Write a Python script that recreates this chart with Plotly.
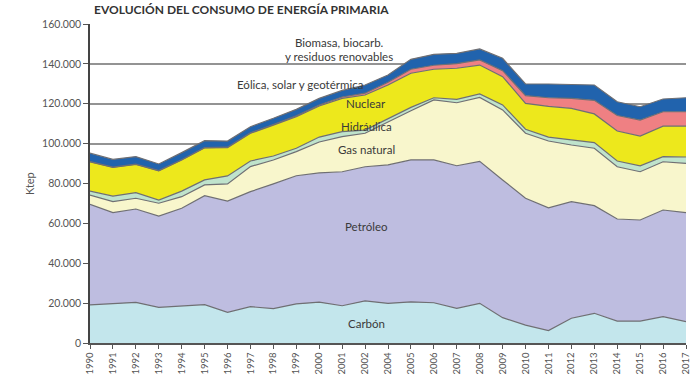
import plotly.graph_objects as go

years = ["1990", "1991", "1992", "1993", "1994", "1995", "1996", "1997", "1998", "1999",
         "2000", "2001", "2002", "2004", "2005", "2006", "2007", "2008", "2009", "2010",
         "2011", "2012", "2013", "2014", "2015", "2016", "2017"]

carbon = [19.1, 19.9, 20.4, 17.9, 18.6, 19.2, 15.4, 18.2, 17.2, 19.6, 20.5, 18.7, 21.1, 19.9,
          20.6, 20.2, 17.4, 19.9, 12.7, 9.0, 6.2, 12.4, 14.9, 11.0, 11.0, 13.2, 10.7]
petroleo = [50.5, 45.5, 46.8, 45.8, 49.0, 54.7, 55.8, 57.7, 62.6, 64.3, 64.8, 67.2, 67.3, 69.4,
            71.2, 71.6, 71.5, 71.2, 69.1, 63.6, 61.6, 58.5, 54.0, 51.2, 50.7, 53.5, 54.7]
gas = [4.6, 5.5, 5.4, 6.4, 5.8, 5.4, 8.6, 12.6, 12.0, 12.1, 15.5, 17.6, 16.8, 21.7,
       24.7, 30.1, 31.6, 32.1, 35.1, 32.6, 33.5, 28.4, 28.8, 26.2, 24.2, 24.2, 24.7]
hidraulica = [2.0, 2.8, 2.8, 1.6, 2.8, 2.5, 4.0, 2.8, 2.0, 1.7, 2.5, 2.5, 1.6, 1.7,
              1.7, 1.1, 1.7, 1.7, 2.5, 2.0, 2.0, 2.6, 2.8, 2.9, 3.0, 2.6, 3.2]
nuclear = [14.7, 14.4, 14.2, 14.7, 15.6, 16.1, 14.2, 13.9, 15.5, 15.8, 15.6, 16.7, 17.6, 16.7,
           17.1, 14.3, 15.6, 14.5, 14.2, 13.0, 15.4, 15.8, 14.4, 15.0, 14.9, 15.3, 15.5]
eolica = [0.1, 0.1, 0.1, 0.1, 0.1, 0.1, 0.2, 0.2, 0.3, 0.4, 0.5, 0.7, 0.9, 1.4,
          2.0, 2.0, 2.3, 2.6, 3.0, 3.9, 4.3, 5.0, 6.8, 7.8, 8.0, 7.2, 7.2]
biomasa = [4.2, 3.9, 3.8, 3.3, 3.6, 3.5, 3.1, 3.1, 3.1, 3.3, 3.3, 3.3, 4.1, 3.6,
           5.0, 5.5, 5.2, 5.5, 6.2, 5.8, 6.9, 7.1, 7.7, 6.9, 6.7, 6.4, 7.0]

series = [
    ("Carbón", carbon, "#c3e6ec"),
    ("Petróleo", petroleo, "#bebde0"),
    ("Gas natural", gas, "#f8f6cc"),
    ("Hidráulica", hidraulica, "#bfe3cc"),
    ("Nuclear", nuclear, "#ede81c"),
    ("Eólica, solar y geotérmica", eolica, "#ef8083"),
    ("Biomasa, biocarb. y residuos renovables", biomasa, "#2163ad"),
]

fig = go.Figure()
for name, vals, col in series:
    fig.add_trace(go.Scatter(
        x=years, y=[v * 1000 for v in vals], name=name, mode="lines",
        stackgroup="one", fillcolor=col,
        line=dict(color="#6f6f73", width=1.2),
        hoverinfo="x+y+name",
    ))

FONT = "Lato, 'Open Sans', sans-serif"

# plot area: x 90..686, y 24..343
def px(xp):
    return (xp - 90) / 596.0

def py(yp):
    return (343 - yp) / 319.0

labels = [
    ("Biomasa, biocarb.", 339, 43),
    ("y residuos renovables", 339, 57),
    ("Eólica, solar y geotérmica", 300, 84),
    ("Nuclear", 366, 104),
    ("Hidráulica", 366, 126),
    ("Gas natural", 366, 149),
    ("Petróleo", 366, 226),
    ("Carbón", 366, 323),
]
annotations = [
    dict(text=t, x=px(xx), y=py(yy), xref="paper", yref="paper", showarrow=False,
         xanchor="center", yanchor="middle", font=dict(family=FONT, size=11.5, color="#3a3a3a"))
    for t, xx, yy in labels
]
annotations.append(dict(text="<b>EVOLUCIÓN DEL CONSUMO DE ENERGÍA PRIMARIA</b>",
                        x=px(92), y=py(10), xref="paper", yref="paper", showarrow=False,
                        xanchor="left", yanchor="middle",
                        font=dict(family=FONT, size=12, color="#333333")))
annotations.append(dict(text="Ktep", x=px(30), y=py(184), xref="paper", yref="paper",
                        showarrow=False, textangle=-90, xanchor="center", yanchor="middle",
                        font=dict(family=FONT, size=11, color="#555555")))

fig.update_layout(
    width=700, height=383,
    margin=dict(l=90, r=14, t=24, b=40, autoexpand=False),
    paper_bgcolor="white", plot_bgcolor="white",
    showlegend=False,
    separators=",.",
    annotations=annotations,
    font=dict(family=FONT, color="#555555"),
)
fig.update_xaxes(
    type="category", categoryorder="array", categoryarray=years,
    range=[0, len(years) - 1], automargin=False,
    tickangle=-90, ticks="outside", ticklen=4, tickcolor="#555555",
    showline=True, linecolor="#555555", linewidth=1.5,
    showgrid=False, tickfont=dict(family=FONT, size=9.5, color="#555555"),
)
fig.update_yaxes(
    range=[0, 160000], dtick=20000, tickformat=",d", automargin=False,
    ticks="outside", ticklen=5, tickcolor="#555555",
    showline=True, linecolor="#444444", linewidth=1.5,
    showgrid=True, gridcolor="#939393", gridwidth=1.5,
    zeroline=False,
    tickfont=dict(family=FONT, size=10.5, color="#555555"),
)

fig.write_html("out.html", config={"displayModeBar": False},
               post_script="document.body.style.margin='0px';")
